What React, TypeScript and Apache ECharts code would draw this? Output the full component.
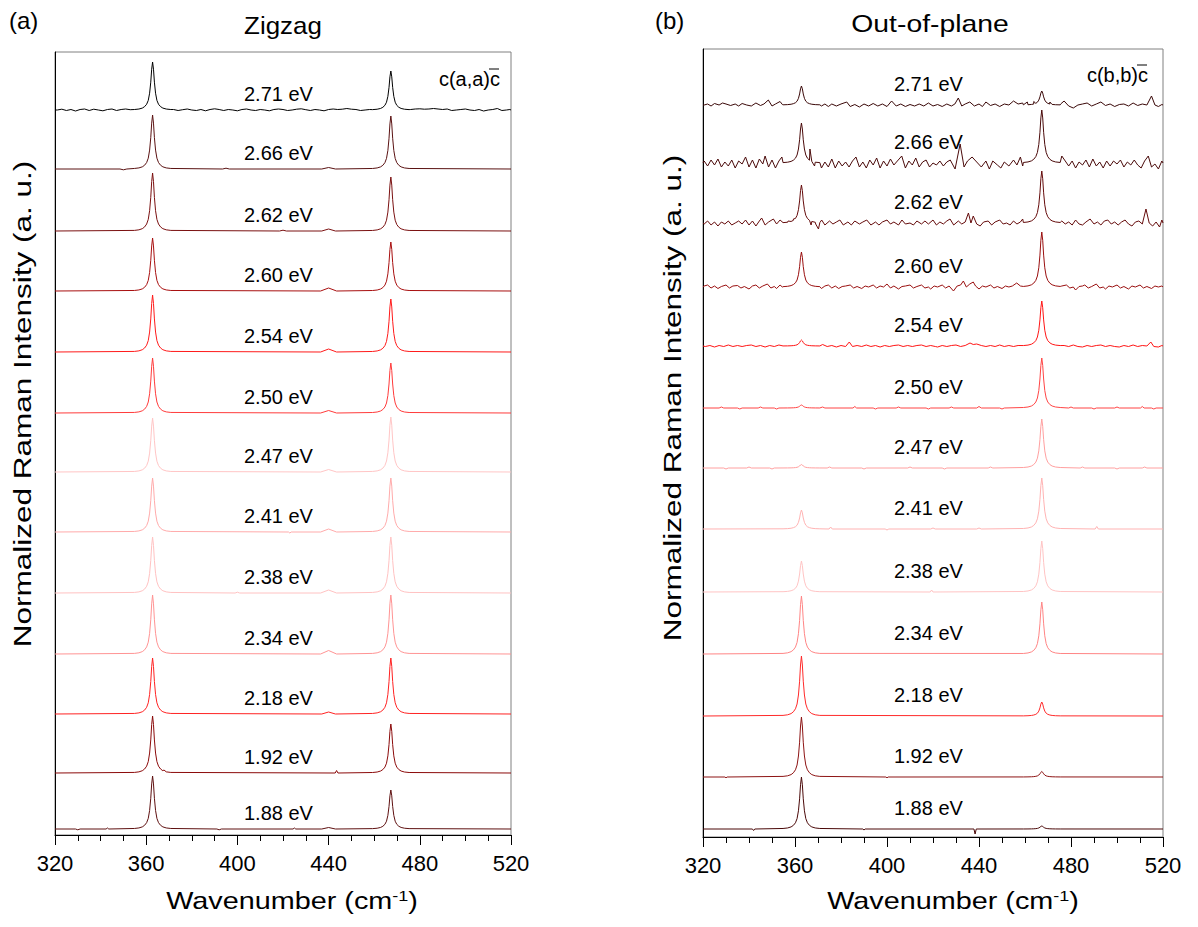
import React, { useEffect, useRef } from 'react';
import * as echarts from 'echarts';

const FONT = '"Liberation Sans", Arial, Helvetica, sans-serif';

// ---------- data ----------
const energies = ['2.71 eV', '2.66 eV', '2.62 eV', '2.60 eV', '2.54 eV', '2.50 eV', '2.47 eV', '2.41 eV', '2.38 eV', '2.34 eV', '2.18 eV', '1.92 eV', '1.88 eV'];
const xTicks = [320, 360, 400, 440, 480, 520];

// Raman mode positions (cm^-1)
const modePositions = [362.8, 467.3];

// normalised line shape of a Raman peak (offset in cm^-1 -> fraction of peak)
const shapeOffsets = [-8, -6, -4.5, -3.5, -2.6, -1.9, -1.3, -0.8, -0.4, 0, 0.4, 0.8, 1.3, 1.9, 2.6, 3.5, 4.5, 6, 8];
const shapeValues = [0.01, 0.02, 0.04, 0.07, 0.12, 0.2, 0.35, 0.58, 0.85, 1, 0.85, 0.58, 0.35, 0.2, 0.12, 0.07, 0.04, 0.02, 0.01];

// (a) Zigzag  c(a,a)c̄
const zigzagOffsets = [725, 666, 604, 544, 483, 422, 363, 303, 242, 181, 121, 62, 6];
const zigzagPeak1 = [48, 54, 58, 53, 57, 55, 54, 54, 56, 59, 56, 57, 53];
const zigzagPeak2 = [39, 53, 54, 49, 53, 50, 55, 54, 56, 59, 56, 49, 39];
// small features [wavenumber, height, half width]; half width 0 = a point of the noisy trace
const zigzagFeatures: number[][][] = [
  [[321, 0, 0], [323, 0.8, 0], [325, -0.5, 0], [327, 0.5, 0], [329, -1, 0], [331, 0.5, 0], [333, 1, 0], [335, -0.5, 0], [337, 0.8, 0], [339, 0, 0], [341, -0.8, 0], [343, 0.5, 0], [345, 1, 0], [347, -0.5, 0], [349, 0.5, 0], [351, 1, 0], [353, 0.3, 0],
   [372, 0.5, 0], [374, -0.5, 0], [376, 0.3, 0], [378, 1, 0], [380, 0, 0], [382, -0.5, 0], [384, 0.5, 0], [386, -0.8, 0], [388, 0.5, 0], [390, 1.2, 0], [392, 0.5, 0], [394, -0.5, 0], [396, 0.5, 0], [398, 0, 0], [400, -0.8, 0], [402, 0.5, 0], [404, 1, 0], [406, 0, 0], [408, -0.5, 0], [410, 0.5, 0], [412, 0, 0], [414, -0.8, 0], [416, 0.5, 0], [418, 1, 0], [420, 0.5, 0], [422, -0.5, 0], [424, 0, 0], [426, 0.8, 0], [428, 1.2, 0], [430, 0.3, 0], [432, -0.5, 0], [434, 0.5, 0], [436, 0, 0], [438, -0.8, 0], [440, 0.5, 0], [442, 1, 0], [444, 0.5, 0], [446, 0.8, 0], [448, 1.5, 0], [450, 0.8, 0], [452, 0.5, 0], [454, -0.5, 0], [456, 0, 0], [458, 0.5, 0],
   [476, 0.5, 0], [478, 1, 0], [480, 1.2, 0], [482, 0.8, 0], [484, 1, 0], [486, 1.5, 0], [488, 1, 0], [490, 0.5, 0], [492, 1, 0], [494, -0.5, 0], [496, 0, 0], [498, 0.5, 0], [500, 1, 0], [502, 0, 0], [504, -0.5, 0], [506, 0.5, 0], [508, -1, 0], [510, 0, 0], [512, 0.5, 0], [514, 1.5, 0], [516, -0.5, 0], [518, 0, 0], [519.5, 0.5, 0]],
  [[350, -0.8, 1.5], [395, 0.8, 1.5], [440, 1.5, 3]],
  [[420, 0.8, 1.5], [440, 2, 3]],
  [[440, 3, 3.5]],
  [[440, 3, 3.5]],
  [[440, 2.5, 3.5]],
  [[440, 2.5, 3.5]],
  [[423, -1, 0.6], [440, 3, 3.5]],
  [[400, 0.8, 1], [440, 3, 3.5]],
  [[440, 3.5, 3.5]],
  [[440, 2, 3]],
  [[367.8, 3, 0.6], [443.5, 2.5, 0.6]],
  [[330, -0.8, 1], [343, 1, 0.6], [392, -0.8, 1], [425, 1, 0.6], [440, 1.5, 3]],
];
const zigzagColors = ['#000000', '#5a1212', '#7a1010', '#a80f0f', '#ff1a1a', '#ff3b3b', '#ffc6c6', '#ffabab', '#ffc2c2', '#ff9494', '#ff2222', '#8b0a0a', '#5e1010'];

// (b) Out-of-plane  c(b,b)c̄
const outOffsets = [732, 674, 614, 550, 491, 429, 369, 308, 245, 183, 121, 60, 8];
const outPeak1 = [19, 40, 38, 35, 6, 3, 3.5, 19, 31, 58, 60, 60, 52];
const outPeak2 = [14, 53, 52, 55, 45, 50, 49, 51, 51, 52, 14, 5.5, 3];
const out271 = [[320.5, 0], [322, 1], [323.5, -1], [325, 1.5], [327, 0], [328.5, 2], [330, 1], [332, -0.5], [334, 1], [335.5, -1], [337, 1.5], [339, 0], [341, -1], [343, 2], [345, -0.5], [346.5, 1], [348.4, 5], [350, -1], [351.5, 1], [353.5, 3.5], [354.5, 0.5],
  [371.5, -1], [373, 1], [374.5, -1.5], [376, 1], [378, -1], [380, 1], [382.5, 3], [384, -1.5], [386, 0.5], [388, -2], [390, 1], [392, -1], [394, 1.5], [396, -1], [398, 1], [400, -1.5], [402, 4], [404, -1], [406, 1], [408, -1.5], [410, 0.5], [412, -1], [414, 1], [416, -1], [418, 2], [420, -1], [422, 0.5], [424, -1.5], [426, 1], [428, -1], [429.5, 1], [431, 7], [432.5, -1], [434, 1], [436, 3], [438, -1], [440, 1], [441.5, -1.5], [443, 3], [445, -0.5], [447, 1], [449, -1.5], [451, 1], [453, 0], [455, 4], [457, 1], [459, 2], [461, 3], [463.8, 3.5], [470.8, 3],
  [475.5, 1], [477, 4], [479, -1], [481, -3], [483, 0], [485, 1], [487, 2], [489, -1], [491, 1], [493, 3], [495, -0.5], [497, 1], [499, -1.5], [501, 0.5], [503, 1], [505, -1], [507, 2], [509, -0.5], [511, 1], [513, 0], [515, 9], [516.5, 0], [518, -1.5], [519.5, 0.5]];
const out266 = [[320.5, 2], [322, -3], [323.5, 3], [325, -2], [326.5, 4], [328, -4], [329.5, 1], [331, -3], [332.5, 3], [334, -5], [335.5, 2], [337, -1], [338.5, 6], [340, -4], [341.5, 3], [343, -5], [344.5, 4], [346, -1], [347, 7], [348.5, -4], [350, 3], [351.5, -5], [353, 2], [354.3, 6],
  [366.5, 14], [368.5, -3], [371.5, -5], [373, 1], [374.5, -4], [376, 4], [377.5, -5], [379, 2], [380.5, -3], [382, 1], [383.5, -4], [385, 2], [386.5, 6], [388, -4], [389.5, 1], [391, -5], [392.5, 3], [394, -2], [395.5, 5], [397, -5], [398.5, 2], [400, -3], [401.5, 4], [403, -2], [404.5, 2], [406.4, 7], [408, -5], [409.5, 2], [411, -2], [412.5, 5], [414, -4], [415.5, 1], [417, 3], [418.5, -4], [420, 0], [421.5, -2], [423, 2], [424.5, -3], [426, 1], [427.5, 3], [429.6, -6], [431.8, 19], [433.5, -4], [435, 2], [437, 6], [439, 1], [441, -4], [443, 2], [444.5, -6], [446, 2], [448, -2], [449.5, -5], [451, 1], [453, -3], [455, 3], [456.5, -2], [458, 6], [459, -3],
  [476, 7], [477.5, 2], [479, -3], [480.5, 2], [482, -5], [483.5, 1], [485, -2], [486.5, 3], [488, -4], [489.5, 4], [491, -3], [492.5, 1], [494, -5], [495.5, 2], [497, -3], [498.5, 2], [500, -1], [501.5, 3], [503, -4], [504.5, 1], [506, -2], [507.5, 3], [509, -2], [510.5, -5], [512, 2], [513.6, 7], [515, -4], [516.5, -1], [518, -6], [519.5, 2]];
const out262 = [[320.5, -1], [322, 2], [323.5, -2], [325, 1], [326.5, -3], [328, 1], [329.5, -1], [331, 2], [332.5, -2], [334, 0], [335.5, 2], [337, -1], [338.5, 3], [340, -2], [341.5, 2], [343, -3], [344.5, 2], [345.5, 5], [347, -2], [348.5, 1], [350.6, 4], [352, -1], [353.5, 3],
  [357, 2], [359.3, 4], [367, -2], [369, -1], [370.2, -6], [371.6, 3], [373, -2], [375, 2], [376.5, -1], [378, 1], [379.5, 3], [381, -2], [383, 1], [384.5, -2], [386, 2], [388, -1], [389.5, 1], [391.2, 3], [393, -2], [395, 1], [396.5, -2], [398, 1], [400, 3], [401.5, -1], [403, 1], [405, -2], [406.5, 3], [408, -1], [410, 0], [411.5, -2], [413, 2], [415, -1], [416.5, 2], [418, -1], [420, 3], [421.5, -2], [423, 1], [424.5, -1], [426, 2], [427.4, 4], [429, -2], [431, 2], [432.5, -1], [434, 1], [435.4, 10], [436.5, 0], [437.5, 7], [439, -1], [440.5, -3], [442, 1], [444, 2], [445.5, -2], [447, 1], [449, 3], [450.5, -1], [452, 0], [453.5, -2], [455, 2], [456.5, -1], [458, 1], [459, 4],
  [476, 2], [477.5, -1], [479, 1], [480.5, -2], [482, 3], [483.5, -1], [485, -2], [486.5, 1], [488.3, 4], [490, -1], [491.5, 1], [493, -2], [494.5, 2], [496, 3], [497.5, -1], [499, 1], [500.5, -2], [502, 1], [503.5, 3], [505, -1], [506.5, -3], [508, 1], [509.5, 2], [511, -1], [512.6, 14], [514, 0], [515.5, -3], [517, 1], [518.5, -4], [519.5, 3]];
const out260 = [[320.5, 1], [322, 2], [323.5, -1], [325, 1], [326.5, -1.5], [328, 0.5], [330, 2], [331.5, -1], [333, 1], [335, 1.5], [336.5, -1], [338, 0.5], [340, -2], [341.5, 1], [343, 2], [344.5, -1], [346, 1], [348, 3], [349.5, -1], [351, 0.5], [352, -1.5], [353.5, 2], [354.5, 0],
  [371.5, -1.5], [373, 1], [374.5, 2], [376, -1], [377.5, 1], [379, -1.5], [380.5, 0.5], [382, 1], [384, 2], [385.5, -1], [387, 0.5], [389, -1.5], [390.5, 1], [392, 0], [394, 2], [395.5, -1], [397, 1], [398.5, 0], [400, 3], [401.5, -1], [403, 1], [405, -2], [406.5, 0.5], [408, 1], [410, 2], [411.5, -1], [413, 0.5], [415, 2], [416.5, -1], [418, 0], [419, -2], [420.5, 1], [422, 0], [424, 2], [425.5, -1], [427, 1], [428.9, -4], [430.5, 1], [432, 2], [433.2, 6], [434.5, 0], [436, 3], [437.5, 5], [438.5, 1], [440, -2], [441.5, 1], [443, 0], [445, 2], [446.5, -1], [448, 0.5], [450, -1.5], [451.5, 1], [453, 0], [454.5, 1], [456.4, 4], [458, 1],
  [476, 1], [478, 2], [479.5, -1], [481, 0], [482, -3], [483.5, 0.5], [485, 1], [486, 2], [487.5, -1], [489, 0.5], [491, 3], [492.5, -1], [494, 0], [495, -2], [496.5, 1], [498, 0], [500, 2], [501.5, -1], [503, 0.5], [505, -2], [506.5, 1], [508, 0], [510, 2], [511.5, -1], [513, 0.5], [515, -1.5], [516.5, 1], [518, 0], [519.5, 1]];
const out254 = [[321, -0.5], [323, 0.5], [325, -1], [327, 0.5], [329, -0.5], [331, 1], [333, -0.5], [335, 0.5], [337, -0.5], [339, 0.5], [341, 1], [343, -0.5], [345, 0.5], [347, -1], [349, 0.5], [351, -0.5], [353, 1],
  [372, 1.5], [374, -0.5], [376, 0.5], [378, -1], [380, 0.5], [382, -0.5], [383.6, 4], [385, -0.5], [387, 0.5], [389, -0.5], [391, 1], [393, -0.5], [395, 0.5], [397, -1], [399, 0.5], [401, -0.5], [403, 0.5], [405, 1], [407, -0.5], [409, 0.5], [411, -0.5], [413, 0.5], [415, 1], [417, -0.5], [419, 0.5], [421, -0.5], [422, -1], [424, 0.5], [426, -0.5], [428, 0.5], [430, 1], [432, -0.5], [434, 0.5], [436.1, 3], [437.5, 1.5], [439, 2], [441, 0.5], [443, -0.5], [445, 0.5], [447, -0.5], [449, 1], [451, -0.5], [453, 0.5], [455, -0.5], [457, 0.5],
  [477, 0.5], [479, -0.5], [481, 1], [483, -0.5], [485, -1], [487, 0.5], [489, -0.5], [491, 0.5], [493, 1], [495, -0.5], [497, 0.5], [499, -0.5], [501, -1], [503, 0.5], [505, -0.5], [507, 1], [509, -0.5], [511, 0.5], [513, 0], [514.7, 4], [516, -0.5], [518, -1], [519.5, 0.5]];
const outFeatures: number[][][] = [
  out271.map(([x, h]) => [x, h, 0]),
  out266.map(([x, h]) => [x, h, 0]),
  out262.map(([x, h]) => [x, h, 0]),
  out260.map(([x, h]) => [x, h, 0]),
  out254.map(([x, h]) => [x, h, 0]),
  [[328, 1, 1], [336, -1, 1], [345, 1, 1], [352, -1, 1], [372, 1, 1], [386, 1.5, 0.8], [395, -1, 1], [405, 1, 1], [418, -1, 1], [428, 1, 1], [440, 1.5, 1], [450, -1, 1], [480, 1, 1], [490, -1, 1], [500, 1, 1], [511, 1.5, 0.8], [516, -1, 1]],
  [[330, -1, 1], [340, 1, 1], [350, -1, 1], [375, 1, 1], [390, -1, 1], [410, 1, 1], [425, -1, 1], [445, 1, 1], [485, 1, 1], [500, -1, 1], [512, 1, 1]],
  [[375.5, 2, 0.7], [400, -1, 0.8], [420, 1, 1], [440, 1, 1], [491.2, 2.5, 0.7]],
  [[419.4, 2, 0.6]],
  [],
  [],
  [[330, -0.8, 0.5], [400, -0.8, 0.5]],
  [[342, -1.5, 0.5], [390, -1, 0.5], [438.3, -5, 0.5]],
];
const outColors = ['#3a0808', '#4a0a0a', '#650b0b', '#9a0f0f', '#ff1414', '#ff4545', '#ffa0a0', '#ffb3b3', '#ffc4c4', '#ff8585', '#ff2a2a', '#8d1414', '#4a0808'];

// ---------- building ----------
const X_MIN = 320;
const X_MAX = 520;

function buildSpectrum(offset: number, h1: number, h2: number, features: number[][]) {
  const pts: number[][] = [];
  const heights = [h1, h2];
  const win = 8;
  const inWindow = (x: number) => modePositions.some((p) => x >= p - win && x <= p + win);
  pts.push([X_MIN, offset], [X_MAX, offset]);
  modePositions.forEach((p, k) => {
    shapeOffsets.forEach((d, i) => pts.push([p + d, offset + heights[k] * shapeValues[i]]));
  });
  features.forEach(([x, h, w]) => {
    pts.push([x, offset + h]);
    if (w > 0) {
      if (!inWindow(x - w)) pts.push([x - w, offset]);
      if (!inWindow(x + w)) pts.push([x + w, offset]);
    }
  });
  pts.sort((a, b) => a[0] - b[0]);
  return pts;
}

function panelSeries(idx: number, offsets: number[], p1: number[], p2: number[], feats: number[][][], colors: string[], labelGap: number) {
  const lines = offsets.map((off, i) => ({
    type: 'line',
    name: energies[i],
    xAxisIndex: idx,
    yAxisIndex: idx,
    data: buildSpectrum(off, p1[i], p2[i], feats[i]),
    showSymbol: false,
    symbol: 'none',
    silent: true,
    lineStyle: { color: colors[i], width: 1 },
    z: 3,
  }));
  const labels = {
    type: 'scatter',
    xAxisIndex: idx,
    yAxisIndex: idx,
    symbolSize: 0,
    silent: true,
    itemStyle: { color: '#000000', opacity: 1 },
    data: offsets.map((off, i) => ({ name: energies[i], value: [418, off + labelGap] })),
    label: {
      show: true,
      position: 'inside',
      formatter: '{b}',
      color: '#000000',
      opacity: 1,
      fontSize: 20,
      fontFamily: FONT,
      textBorderWidth: 0,
    },
    z: 4,
  };
  return [...lines, labels];
}

function xAxisCfg(gridIndex: number) {
  return {
    gridIndex,
    type: 'value',
    min: X_MIN,
    max: X_MAX,
    interval: 40,
    axisLine: { show: true, onZero: false, lineStyle: { color: '#000', width: 1 } },
    axisTick: { show: true, inside: false, length: 10, lineStyle: { color: '#000', width: 1 } },
    minorTick: { show: true, splitNumber: 4, length: 6, lineStyle: { color: '#000', width: 1 } },
    axisLabel: {
      show: true,
      fontSize: 22,
      color: '#000',
      fontFamily: FONT,
      margin: 17,
      formatter: (v: number) => (xTicks.includes(v) ? String(v) : ''),
    },
    splitLine: { show: false },
    minorSplitLine: { show: false },
  };
}

function yAxisCfg(gridIndex: number, max: number) {
  return {
    gridIndex,
    type: 'value',
    min: 0,
    max,
    axisLine: { show: true, onZero: false, lineStyle: { color: '#000', width: 1 } },
    axisTick: { show: false },
    axisLabel: { show: false },
    splitLine: { show: false },
  };
}

function txt(x: number, y: number, text: string, fontSize: number, align = 'center', rotation = 0, scaleX = 1) {
  return {
    type: 'text',
    x,
    y,
    rotation,
    scaleX,
    silent: true,
    style: {
      text,
      fill: '#000',
      font: `${fontSize}px ${FONT}`,
      fontSize,
      fontFamily: FONT,
      textAlign: align,
      textVerticalAlign: 'middle',
      align,
      verticalAlign: 'middle',
    },
  };
}

function xName(x: number, y: number) {
  return {
    type: 'text',
    x,
    y,
    scaleX: 1.2,
    silent: true,
    style: {
      text: '{n|Wavenumber (cm}{s|-1}{n|)}',
      fill: '#000',
      textAlign: 'center',
      textVerticalAlign: 'middle',
      align: 'center',
      verticalAlign: 'middle',
      rich: {
        n: { fontSize: 24, fontFamily: FONT, fill: '#000', color: '#000' },
        s: { fontSize: 15, fontFamily: FONT, fill: '#000', color: '#000', verticalAlign: 'top', padding: [0, 0, 9, 0] },
      },
    },
  };
}

function overline(x1: number, x2: number, y: number) {
  return { type: 'line', silent: true, shape: { x1, y1: y, x2, y2: y }, style: { stroke: '#000', lineWidth: 1 } };
}

function buildOption() {
  return {
    animation: false,
    backgroundColor: '#ffffff',
    grid: [
      { left: 55, top: 52, width: 456, height: 783, show: true, borderColor: '#808080', borderWidth: 1, backgroundColor: 'transparent' },
      { left: 703, top: 49, width: 460, height: 788, show: true, borderColor: '#808080', borderWidth: 1, backgroundColor: 'transparent' },
    ],
    xAxis: [xAxisCfg(0), xAxisCfg(1)],
    yAxis: [yAxisCfg(0, 783), yAxisCfg(1, 788)],
    series: [
      ...panelSeries(0, zigzagOffsets, zigzagPeak1, zigzagPeak2, zigzagFeatures, zigzagColors, 16),
      ...panelSeries(1, outOffsets, outPeak1, outPeak2, outFeatures, outColors, 21),
    ],
    graphic: [
      txt(9, 20, '(a)', 24, 'left'),
      txt(655, 20, '(b)', 24, 'left'),
      txt(283, 25, 'Zigzag', 24, 'center', 0, 1.08),
      txt(930, 24, 'Out-of-plane', 24, 'center', 0, 1.18),
      txt(23, 404, 'Normalized Raman Intensity (a. u.)', 23, 'center', Math.PI / 2, 1.37),
      txt(673, 398, 'Normalized Raman Intensity (a. u.)', 23, 'center', Math.PI / 2, 1.37),
      xName(292, 901),
      xName(953, 901),
      txt(500, 79, 'c(a,a)c', 20, 'right'),
      overline(489, 499, 69),
      txt(1148, 75, 'c(b,b)c', 20, 'right'),
      overline(1137, 1147, 65),
    ],
  };
}

export default function App() {
  const ref = useRef<HTMLDivElement>(null);
  useEffect(() => {
    document.body.style.margin = '0';
    const chart = echarts.init(ref.current as HTMLDivElement, undefined, { renderer: 'svg' });
    chart.setOption(buildOption() as any);
    return () => chart.dispose();
  }, []);
  return <div ref={ref} style={{ width: 1198, height: 927 }} />;
}
